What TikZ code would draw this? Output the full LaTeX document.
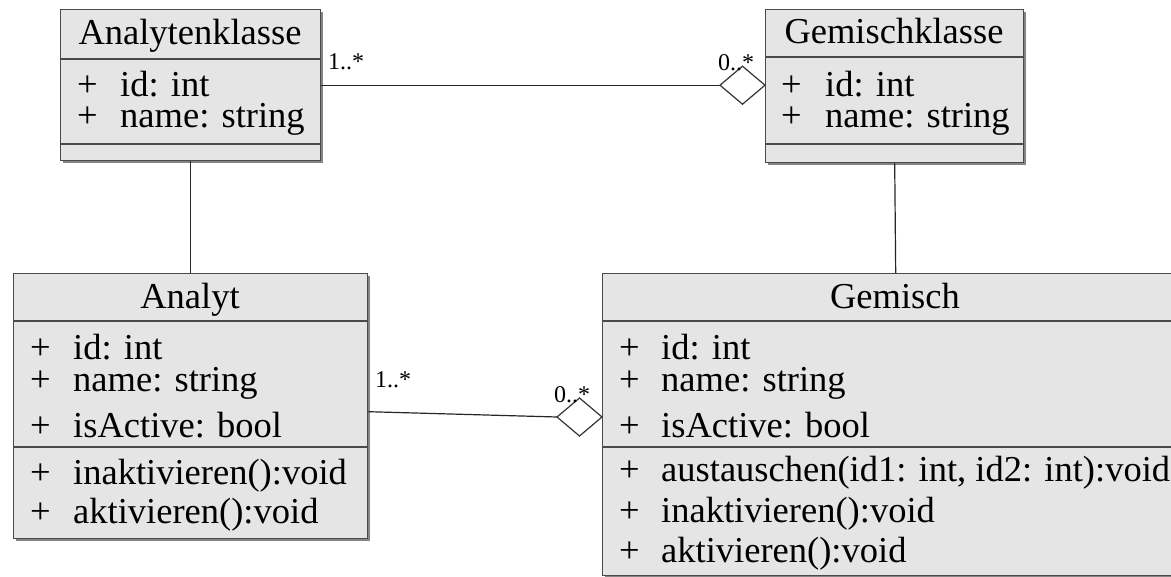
\documentclass[tikz,border=0pt]{standalone}
\usepackage{fontspec}
\setmainfont{Liberation Serif}
\usetikzlibrary{shadows}
\definecolor{boxgray}{HTML}{E5E5E5}
\definecolor{edge}{HTML}{4A4A4A}
\begin{document}
\begin{tikzpicture}[x=1pt,y=-1pt,
  cls/.style={draw=edge, line width=1.4pt, fill=boxgray, inner sep=0pt, anchor=north west,
    drop shadow={shadow xshift=2.5pt, shadow yshift=-2.5pt, fill=black!60, opacity=0.8}},
  sepline/.style={draw=edge, line width=1.4pt},
  txt/.style={font=\fontsize{36.5}{40}\selectfont, inner sep=0pt, anchor=base west},
  ttl/.style={txt, anchor=base},
  mult/.style={font=\fontsize{24}{26}\selectfont, inner sep=0pt, anchor=base west},
  conn/.style={draw=black!85, line width=1.2pt},
  agg/.style={draw=black!80, line width=1.2pt, fill=white, line join=miter}
]
\useasboundingbox (0,0) rectangle (1171,577);

% ---------- boxes ----------
\node[cls, minimum width=260pt, minimum height=151pt] (ak) at (60,9) {};
\node[cls, minimum width=258pt, minimum height=153pt] (gk) at (765,9) {};
\node[cls, minimum width=354pt, minimum height=265pt] (an) at (13,273) {};
\node[cls, minimum width=586pt, minimum height=302pt] (gm) at (602,273) {};

% separators
\draw[sepline] (ak.west |- 0,59) -- (ak.east |- 0,59);
\draw[sepline] (ak.west |- 0,144) -- (ak.east |- 0,144);
\draw[sepline] (gk.west |- 0,57) -- (gk.east |- 0,57);
\draw[sepline] (gk.west |- 0,144) -- (gk.east |- 0,144);
\draw[sepline] (an.west |- 0,321) -- (an.east |- 0,321);
\draw[sepline] (an.west |- 0,447) -- (an.east |- 0,447);
\draw[sepline] (gm.west |- 0,321) -- (gm.east |- 0,321);
\draw[sepline] (gm.west |- 0,447) -- (gm.east |- 0,447);

% ---------- texts ----------
\node[ttl] (akT) at (190,45) {Analytenklasse};
\node[txt] (akP1) at (77,97) {+};  \node[txt] (akA1) at (120,97) {id: int};
\node[txt] (akP2) at (77,128) {+}; \node[txt] (akA2) at (120,128) {name: string};

\node[ttl] (gkT) at (894,44) {Gemischklasse};
\node[txt] (gkP1) at (781,97) {+};  \node[txt] (gkA1) at (825,97) {id: int};
\node[txt] (gkP2) at (781,128) {+}; \node[txt] (gkA2) at (825,128) {name: string};

\node[ttl] (anT) at (190,309) {Analyt};
\node[txt] (anP1) at (30,360) {+}; \node[txt] (anA1) at (73,360) {id: int};
\node[txt] (anP2) at (30,392) {+}; \node[txt] (anA2) at (73,392) {name: string};
\node[txt] (anP3) at (30,438) {+}; \node[txt] (anA3) at (73,438) {isActive: bool};
\node[txt] (anP4) at (30,485) {+}; \node[txt] (anM1) at (73,485) {inaktivieren():void};
\node[txt] (anP5) at (30,523) {+}; \node[txt] (anM2) at (73,523) {aktivieren():void};

\node[ttl] (gmT) at (895,309) {Gemisch};
\node[txt] (gmP1) at (619,360) {+}; \node[txt] (gmA1) at (661,360) {id: int};
\node[txt] (gmP2) at (619,392) {+}; \node[txt] (gmA2) at (661,392) {name: string};
\node[txt] (gmP3) at (619,438) {+}; \node[txt] (gmA3) at (661,438) {isActive: bool};
\node[txt] (gmP4) at (619,482) {+}; \node[txt] (gmM1) at (661,482) {austauschen(id1: int, id2: int):void};
\node[txt] (gmP5) at (619,522) {+}; \node[txt] (gmM2) at (661,522) {inaktivieren():void};
\node[txt] (gmP6) at (619,562) {+}; \node[txt] (gmM3) at (661,562) {aktivieren():void};

% ---------- connectors ----------
\draw[conn] (ak.south) -- (an.north);
\draw[conn] (gk.south) -- (gm.north);

% top aggregation
\coordinate (dT) at ([xshift=-45pt]gk.west |- ak.east);
\draw[conn] (ak.east) -- (dT);
\draw[agg] (gk.west |- ak.east) -- ++(-22.5,-19) -- (dT) -- ++(22.5,19) -- cycle;

% bottom aggregation
\coordinate (dB) at (557,417);
\draw[conn] ([yshift=-5.5pt]an.east) -- (dB);
\draw[agg] (gm.west |- dB) -- ++(-22.5,-19) -- (dB) -- ++(22.5,19) -- cycle;

% multiplicities
\node[mult] (m1) at (328,70) {1..*};
\node[mult] (m2) at (718,71) {0..*};
\node[mult] (m3) at (375,388) {1..*};
\node[mult] (m4) at (554,403) {0..*};
\end{tikzpicture}
\end{document}
